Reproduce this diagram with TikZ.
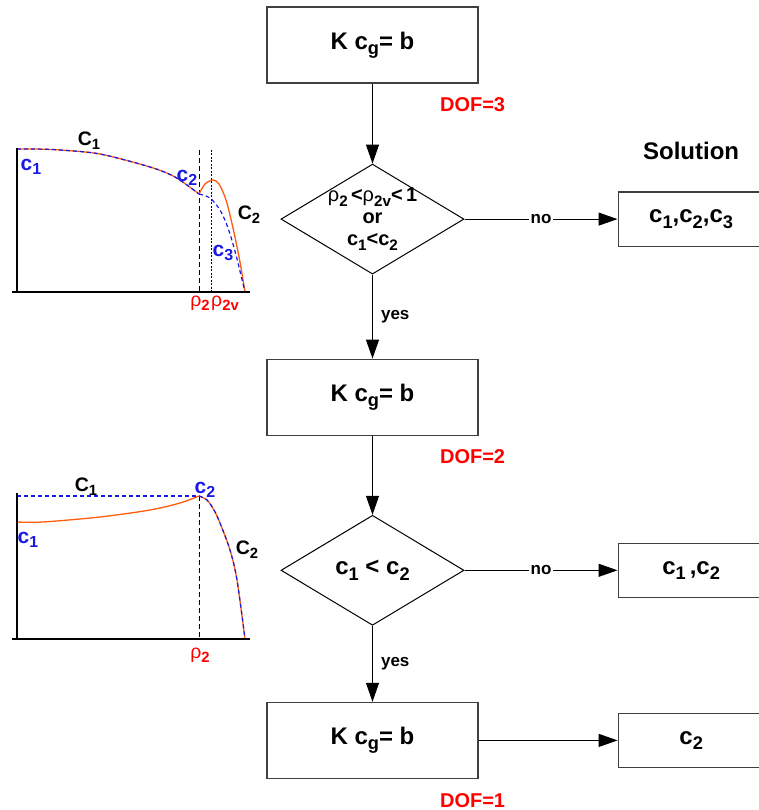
\documentclass[tikz,border=0pt]{standalone}
\usepackage{fontspec}
\setmainfont{Liberation Sans}
\usepackage{graphicx}
\usepackage{tikz}
\usetikzlibrary{arrows.meta,positioning,shapes.geometric}
\usepackage{xcolor}
\definecolor{dofred}{rgb}{1.0,0.0,0.0}
\definecolor{curveblue}{rgb}{0.10,0.10,0.90}
\definecolor{curveorange}{rgb}{1.0,0.36,0.05}
\definecolor{framegray}{rgb}{0.25,0.25,0.25}
\newcommand{\rhosym}{{\mdseries ρ}}
\newcommand{\lowsub}[1]{\raisebox{-0.22em}{\scalebox{0.76}{#1}}}
\tikzset{
  solve/.style  ={rectangle, draw=framegray, line width=1.2pt, minimum width=211pt,
                  minimum height=76pt, inner sep=2pt,
                  font=\fontsize{24}{28}\selectfont\bfseries},
  soln/.style   ={rectangle, draw=framegray, line width=1.2pt, minimum width=146pt,
                  minimum height=54pt, inner sep=2pt,
                  font=\fontsize{24}{28}\selectfont\bfseries},
  test/.style   ={diamond, aspect=1.66, draw=black, line width=1pt, align=center,
                  minimum width=183pt, minimum height=110pt, inner sep=-8pt},
  doflbl/.style ={text=dofred, inner sep=2pt, font=\fontsize{20}{24}\selectfont\bfseries},
  branch/.style ={inner sep=2pt, font=\fontsize{17}{20}\selectfont\bfseries},
  flow/.style   ={-{Triangle[length=19pt,width=13pt]}, line width=1.1pt, draw=black},
  axis/.style   ={line width=1.5pt, draw=black},
  curveO/.style ={line width=1.3pt, draw=curveorange},
  curveB/.style ={line width=1.2pt, draw=curveblue, dash pattern=on 4pt off 3pt},
  rholine/.style={line width=1pt, draw=black, dash pattern=on 5pt off 3pt},
  rhovline/.style={line width=1pt, draw=black, dash pattern=on 2pt off 1.5pt},
  plbl/.style   ={inner sep=0pt, font=\fontsize{19.5}{22}\selectfont\bfseries},
  plblc/.style  ={plbl, text=curveblue, font=\fontsize{21}{24}\selectfont\bfseries},
}

\begin{document}
\begin{tikzpicture}[x=1pt, y=-1pt]
  \useasboundingbox (0,0) rectangle (759,810);

  % flow chart
  \node[solve] (sys3) at (372.5,45) {K c\lowsub{g}= b};
  \node[test, below=80pt of sys3, font=\fontsize{20}{22}\selectfont\bfseries] (test1)
    {\rhosym\lowsub{2}\,<\rhosym\lowsub{2v}<\,1\\or\\c\lowsub{1}<c\lowsub{2}};
  \node[solve, below=84pt of test1] (sys2) {K c\lowsub{g}= b};
  \node[test, below=79pt of sys2, font=\fontsize{24}{28}\selectfont\bfseries] (test2)
    {c\lowsub{1} < c\lowsub{2}};
  \node[solve, below=76pt of test2] (sys1) {K c\lowsub{g}= b};

  \node[soln, right=153pt of test1] (sol3) {c\lowsub{1},c\lowsub{2},c\lowsub{3}};
  \node[soln, right=153pt of test2] (sol2) {c\lowsub{1}\,,c\lowsub{2}};
  \node[soln, right=139pt of sys1]  (sol1) {c\lowsub{2}};
  \node[above=29pt of sol3, font=\fontsize{24}{28}\selectfont\bfseries, inner sep=3pt] (soltitle) {Solution};

  \node[doflbl, below=12pt of sys3.south east, xshift=-6pt] (dof3) {DOF=3};
  \node[doflbl, below=12pt of sys2.south east, xshift=-6pt] (dof2) {DOF=2};
  \node[doflbl, below=12pt of sys1.south east, xshift=-6pt] (dof1) {DOF=1};

  \draw[flow] (sys3.south) -- (test1.north);
  \draw[flow] (test1.east) -- node[branch, fill=white] (no1) {no} (sol3.west);
  \draw[flow] (test1.south) -- node[branch, right=6pt] (yes1) {yes} (sys2.north);
  \draw[flow] (sys2.south) -- (test2.north);
  \draw[flow] (test2.east) -- node[branch, fill=white] (no2) {no} (sol2.west);
  \draw[flow] (test2.south) -- node[branch, right=6pt] (yes2) {yes} (sys1.north);
  \draw[flow] (sys1.east) -- (sol1.west);

  % upper sketch, DOF=3
  \draw[rholine]  (199,150) -- (199,292);
  \draw[rhovline] (211,150) -- (211,292);
  \draw[curveO] plot[smooth] coordinates {(17,149) (35,149) (60,150) (100,154) (150,167) (175,177) (199,194)};
  \draw[curveO] plot[smooth] coordinates {(199,194) (205,184) (213,180) (219,184) (226,200) (233,228) (240,262) (245,292)};
  \draw[curveB] plot[smooth] coordinates {(17,149) (35,149) (60,150) (100,154) (150,167) (175,177) (199,194)};
  \draw[curveB] plot[smooth] coordinates {(199,194) (210,198) (220,210) (228,228) (236,255) (245,292)};
  \draw[axis] (17,148) -- (17,293);
  \draw[axis] (12,292) -- (250,292);
  \node[plbl] (bigC1a) at (89,141) {C\lowsub{1}};
  \node[plblc] (c1a) at (31,167) {c\lowsub{1}};
  \node[plblc] (c2a) at (187,178) {c\lowsub{2}};
  \node[plbl] (bigC2a) at (249,215) {C\lowsub{2}};
  \node[plblc] (c3a) at (223,253) {c\lowsub{3}};
  \node[plbl, text=dofred] (rho2a) at (200,303) {\rhosym\lowsub{2}};
  \node[plbl, text=dofred] (rho2v) at (225,303) {\rhosym\lowsub{2v}};

  % lower sketch, DOF=2
  \draw[rholine] (199,496) -- (199,639);
  \draw[curveO] plot[smooth] coordinates {(17,522) (43,522) (100,517) (150,510) (180,503) (199,496)};
  \draw[curveO] plot[smooth] coordinates {(199,496) (207,500) (214,510) (220,523) (230,550) (237,580) (245,639)};
  \draw[curveB] (17,496) -- (199,496);
  \draw[curveB] plot[smooth] coordinates {(199,496) (207,500) (214,510) (220,523) (230,550) (237,580) (245,639)};
  \draw[axis] (17,493) -- (17,640);
  \draw[axis] (12,639) -- (250,639);
  \node[plbl] (bigC1b) at (86,487) {C\lowsub{1}};
  \node[plblc] (c2b) at (205,490) {c\lowsub{2}};
  \node[plblc] (c1b) at (28,540) {c\lowsub{1}};
  \node[plbl] (bigC2b) at (247,550) {C\lowsub{2}};
  \node[plbl, text=dofred] (rho2b) at (200,655) {\rhosym\lowsub{2}};
\end{tikzpicture}
\end{document}
